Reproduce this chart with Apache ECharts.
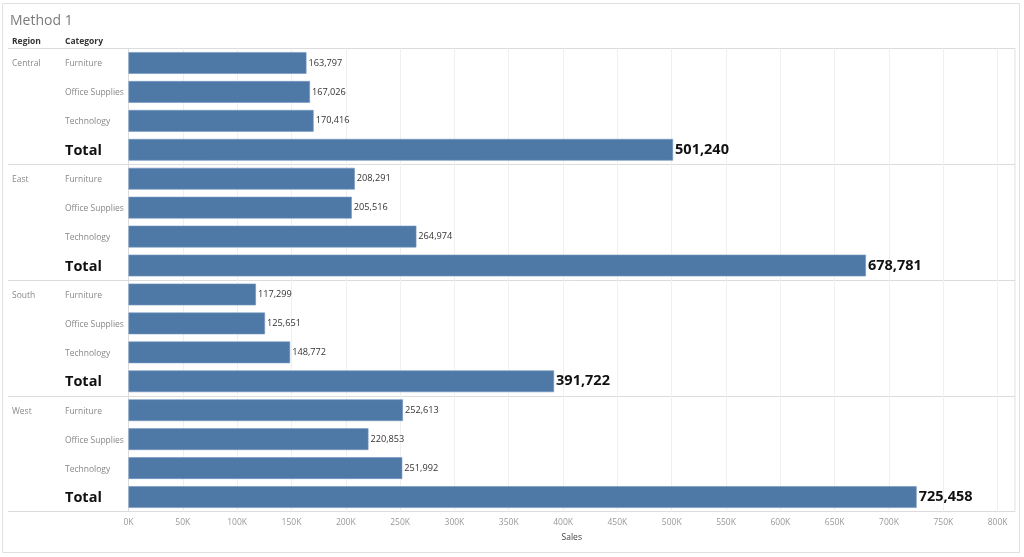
<!DOCTYPE html>
<html><head><meta charset="utf-8">
<script src="https://cdn.jsdelivr.net/npm/echarts@6/dist/echarts.min.js"></script>
<style>html,body{margin:0;padding:0;background:#fff}#c{width:1024px;height:557px}</style>
</head><body><div id="c"></div>
<script>
const regions = ['Central', 'East', 'South', 'West'];
const categories = ['Furniture', 'Office Supplies', 'Technology'];
const totalLabel = 'Total';
const centralSales = [163797, 167026, 170416];
const eastSales = [208291, 205516, 264974];
const southSales = [117299, 125651, 148772];
const westSales = [252613, 220853, 251992];
const regionTotals = [501240, 678781, 391722, 725458];
const xTicks = [0, 50000, 100000, 150000, 200000, 250000, 300000, 350000, 400000, 450000, 500000, 550000, 600000, 650000, 700000, 750000, 800000];

const salesByRegion = [centralSales, eastSales, southSales, westSales];
const rowKeys = [];
const rowData = [];
regions.forEach((r, ri) => {
  categories.forEach((c, ci) => {
    rowKeys.push(r + '|' + c + '|' + ci);
    rowData.push({ value: salesByRegion[ri][ci] });
  });
  rowKeys.push(r + '|' + totalLabel + '|T');
  rowData.push({
    value: regionTotals[ri],
    label: { fontSize: 14.5, fontWeight: 'bold', color: '#111', fontFamily: 'Open Sans' }
  });
});

const FONT = 'Open Sans';
const chart = echarts.init(document.getElementById('c'), null, { renderer: 'canvas' });
chart.setOption({
  animation: false,
  backgroundColor: '#fff',
  title: {
    text: 'Method 1', left: 5, top: 9,
    textStyle: { fontFamily: FONT, fontSize: 14, fontWeight: 'normal', color: '#7a7a7a' }
  },
  graphic: [
    { type: 'rect', shape: { x: 2.5, y: 3.5, width: 1017, height: 549 }, style: { fill: 'none', stroke: '#e0e0e0', lineWidth: 1 }, silent: true },
    { type: 'text', left: 12, top: 37.5, style: { text: 'Region', fontFamily: FONT, fontSize: 8.5, fontWeight: 'bold', fill: '#333' } },
    { type: 'text', left: 65, top: 37.5, style: { text: 'Category', fontFamily: FONT, fontSize: 8.5, fontWeight: 'bold', fill: '#333' } }
  ],
  grid: {
    left: 128.5, right: 9, top: 48.5, bottom: 45.5,
    show: true, borderColor: '#dcdcdc', borderWidth: 1, backgroundColor: 'transparent'
  },
  xAxis: {
    type: 'value', min: 0, max: 816000, interval: 50000,
    name: 'Sales', nameLocation: 'middle', nameGap: 22,
    nameTextStyle: { fontFamily: FONT, fontSize: 8.5, color: '#444' },
    axisLine: { show: false }, axisTick: { show: false },
    axisLabel: {
      showMaxLabel: false, margin: 7, fontFamily: FONT, fontSize: 8.5, color: '#999',
      formatter: v => (xTicks.indexOf(v) >= 0 ? (v / 1000) + 'K' : '')
    },
    splitLine: { show: true, lineStyle: { color: '#f0f0f0', width: 1 } }
  },
  yAxis: {
    type: 'category', data: rowKeys, inverse: true,
    axisLine: { show: true, lineStyle: { color: '#dcdcdc' } },
    axisTick: {
      show: true, length: 120.5, interval: (i) => i % 4 === 0,
      lineStyle: { color: '#dcdcdc' }
    },
    splitLine: { show: true, interval: (i) => i % 4 === 0, lineStyle: { color: '#dcdcdc' } },
    axisLabel: {
      interval: 0, align: 'left', margin: 116.5,
      formatter: (v) => {
        const p = v.split('|');
        const showRegion = p[2] === '0';
        if (p[2] === 'T') return '{e|}{t|' + p[1] + '}';
        return '{r|' + (showRegion ? p[0] : '') + '}{c|' + p[1] + '}';
      },
      rich: {
        r: { width: 53, fontFamily: FONT, fontSize: 8.5, color: '#888', padding: [2, 0, 0, 0] },
        c: { fontFamily: FONT, fontSize: 8.5, color: '#888', padding: [2, 0, 0, 0] },
        e: { width: 53 },
        t: { fontFamily: FONT, fontSize: 14.5, fontWeight: 'bold', color: '#111', padding: [2, 0, 0, 0] }
      }
    }
  },
  series: [{
    type: 'bar', data: rowData, barCategoryGap: '25%',
    itemStyle: { color: '#4e79a7', borderColor: '#7296bf', borderWidth: 0.6 },
    label: {
      show: true, position: 'right', distance: 2,
      fontFamily: FONT, fontSize: 9.2, color: '#333',
      formatter: p => p.value.toLocaleString('en-US')
    }
  }]
});
</script></body></html>
